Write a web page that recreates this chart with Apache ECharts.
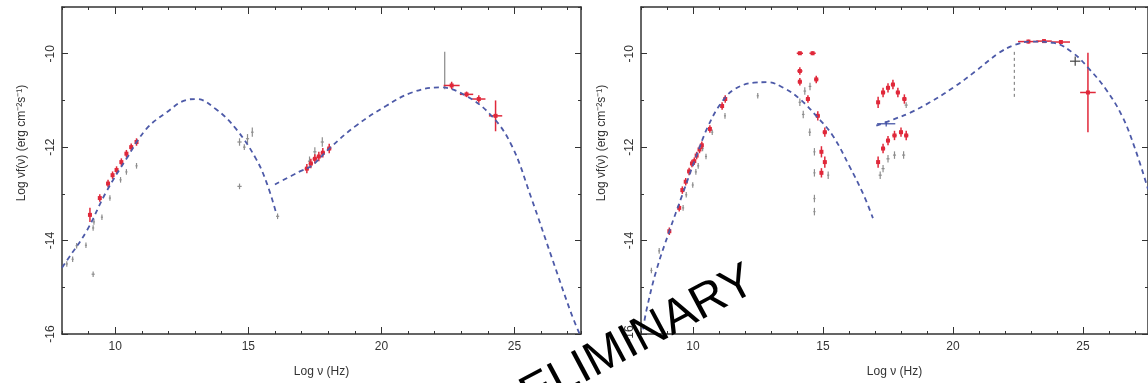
<!DOCTYPE html>
<html>
<head>
<meta charset="utf-8">
<script src="https://cdn.jsdelivr.net/npm/echarts@6/dist/echarts.min.js"></script>
<style>
  html, body { margin: 0; padding: 0; background: #fff; }
  #chart { width: 1148px; height: 383px; }
</style>
</head>
<body>
<div id="chart"></div>
<script>
// axis ranges and tick labels
const X_MIN = 8, X_MAX = 27.5, Y_MIN = -16, Y_MAX = -9;
const xMajor = [10, 15, 20, 25];
const yMajor = [-16, -14, -12, -10];

// left panel: model curves [log nu, log nuFnu]
const syncL = [[8.0, -14.58], [8.18, -14.43], [8.92, -13.80], [9.67, -12.95], [10.42, -12.25], [11.17, -11.61],
  [11.92, -11.26], [12.67, -10.99], [13.04, -10.97], [13.79, -11.19], [14.54, -11.61], [15.29, -12.25],
  [15.7, -12.78], [16.04, -13.4]];
const icL = [[16.0, -12.8], [16.9, -12.53], [17.4, -12.39], [18.04, -12.03], [19.05, -11.54], [20.17, -11.12],
  [21.15, -10.83], [22.2, -10.72], [23.17, -10.9], [24.14, -11.33], [24.9, -11.97], [25.64, -13.1],
  [26.4, -14.36], [27.14, -15.57], [27.45, -16.0]];

// left panel: data points [x, y, half width, half height]
const redL = [[10.8, -11.89, 0.05, 0.08], [10.6, -12.0, 0.05, 0.08], [10.42, -12.14, 0.05, 0.08],
  [10.23, -12.32, 0.05, 0.08], [10.05, -12.49, 0.05, 0.08], [9.9, -12.6, 0.05, 0.08],
  [9.73, -12.78, 0.05, 0.08], [9.42, -13.09, 0.05, 0.08], [9.05, -13.45, 0.05, 0.15],
  [17.2, -12.46, 0.08, 0.1], [17.35, -12.35, 0.08, 0.1], [17.5, -12.25, 0.08, 0.1],
  [17.65, -12.2, 0.08, 0.1], [17.8, -12.12, 0.08, 0.1], [18.04, -12.03, 0.08, 0.1],
  [22.64, -10.68, 0.3, 0.08], [23.2, -10.87, 0.25, 0.06], [23.66, -10.97, 0.25, 0.08],
  [24.29, -11.33, 0.25, 0.33]];
const greyL = [[10.8, -12.4, 0.04, 0.06], [10.42, -12.53, 0.04, 0.06], [10.2, -12.7, 0.04, 0.06],
  [9.8, -13.09, 0.04, 0.06], [9.5, -13.5, 0.04, 0.06], [9.2, -13.6, 0.04, 0.06], [9.17, -13.73, 0.04, 0.06],
  [8.9, -14.1, 0.04, 0.06], [8.55, -14.11, 0.04, 0.06], [8.4, -14.4, 0.04, 0.06], [8.18, -14.5, 0.04, 0.06],
  [9.17, -14.72, 0.06, 0.06], [14.67, -12.84, 0.08, 0.06], [14.67, -11.89, 0.08, 0.08],
  [14.97, -11.82, 0.06, 0.1], [15.15, -11.68, 0.05, 0.1], [14.85, -12.0, 0.05, 0.06],
  [16.1, -13.48, 0.06, 0.06], [17.78, -11.89, 0.06, 0.1], [17.5, -12.1, 0.06, 0.1], [17.3, -12.3, 0.06, 0.1]];
const barL = [[22.38, -9.96, -10.76]];

// right panel: model curves
const syncR = [[8.08, -15.9], [8.21, -15.49], [8.59, -14.64], [9.09, -13.8], [9.59, -13.02], [10.09, -12.25],
  [10.59, -11.54], [11.1, -11.04], [11.6, -10.76], [12.35, -10.62], [12.86, -10.61], [13.48, -10.73],
  [14.11, -10.97], [14.74, -11.33], [15.37, -11.75], [16.0, -12.39], [16.56, -13.02], [16.92, -13.52]];
const icR = [[17.05, -11.54], [17.74, -11.4], [18.36, -11.26], [19.11, -11.04], [20.0, -10.73], [20.88, -10.37],
  [21.75, -9.99], [22.38, -9.81], [23.0, -9.74], [23.88, -9.77], [24.63, -9.99], [25.26, -10.34],
  [25.88, -10.76], [26.5, -11.33], [27.0, -12.03], [27.5, -12.9]];

// right panel: data points
const redR = [[11.24, -10.97, 0.05, 0.08], [11.12, -11.12, 0.05, 0.08], [10.65, -11.61, 0.05, 0.08],
  [10.34, -11.96, 0.05, 0.08], [10.25, -12.05, 0.05, 0.08], [10.14, -12.18, 0.05, 0.08],
  [10.05, -12.3, 0.05, 0.08], [9.96, -12.35, 0.05, 0.08], [9.85, -12.52, 0.05, 0.08],
  [9.72, -12.74, 0.05, 0.08], [9.59, -12.92, 0.05, 0.08], [9.47, -13.3, 0.05, 0.08], [9.09, -13.8, 0.05, 0.08],
  [14.11, -9.99, 0.12, 0.04], [14.6, -9.99, 0.12, 0.04], [14.11, -10.37, 0.1, 0.08], [14.74, -10.55, 0.08, 0.08],
  [14.11, -10.6, 0.08, 0.08], [14.42, -10.97, 0.08, 0.08], [14.8, -11.33, 0.08, 0.1], [15.07, -11.68, 0.08, 0.1],
  [14.94, -12.1, 0.06, 0.12], [15.07, -12.32, 0.06, 0.12], [14.94, -12.55, 0.06, 0.1],
  [17.12, -11.04, 0.05, 0.12], [17.31, -10.83, 0.08, 0.1], [17.5, -10.73, 0.08, 0.1], [17.69, -10.66, 0.08, 0.1],
  [17.88, -10.83, 0.08, 0.1], [18.13, -10.97, 0.08, 0.1],
  [17.12, -12.32, 0.05, 0.12], [17.31, -12.03, 0.08, 0.1], [17.5, -11.86, 0.08, 0.1], [17.75, -11.75, 0.08, 0.1],
  [18.0, -11.68, 0.08, 0.1], [18.2, -11.75, 0.08, 0.1],
  [22.9, -9.74, 0.4, 0.04], [23.5, -9.73, 0.3, 0.04], [24.15, -9.75, 0.35, 0.04], [25.19, -10.83, 0.3, 0.85]];
const greyR = [[12.49, -10.9, 0.04, 0.06], [11.23, -11.33, 0.04, 0.06], [10.74, -11.68, 0.04, 0.06],
  [10.5, -12.2, 0.04, 0.06], [10.37, -12.03, 0.04, 0.06], [10.2, -12.4, 0.04, 0.06], [10.11, -12.53, 0.04, 0.06],
  [9.99, -12.81, 0.04, 0.06], [9.74, -13.02, 0.04, 0.06], [9.62, -13.3, 0.04, 0.06], [8.7, -14.22, 0.04, 0.06],
  [8.4, -14.64, 0.04, 0.06], [14.11, -11.04, 0.05, 0.08], [14.24, -11.3, 0.05, 0.08], [14.3, -10.8, 0.05, 0.08],
  [14.5, -10.7, 0.05, 0.08], [14.49, -11.68, 0.05, 0.08], [14.67, -12.1, 0.04, 0.08], [14.67, -12.55, 0.04, 0.08],
  [14.67, -13.1, 0.04, 0.08], [14.67, -13.38, 0.04, 0.08], [15.2, -12.6, 0.04, 0.08],
  [18.2, -11.1, 0.06, 0.06], [17.31, -12.46, 0.06, 0.08], [17.5, -12.25, 0.06, 0.08], [17.75, -12.17, 0.06, 0.08],
  [18.1, -12.17, 0.06, 0.08], [17.2, -12.6, 0.06, 0.08]];
const darkR = [[24.7, -10.16, 0.2, 0.1]];
const blueR = [[17.43, -11.5, 0.35, 0.06]];
const barR = [[22.36, -9.96, -10.93]];

const AX = '#333';
const MODEL = '#4d5aa8';
const RED = '#e0283a';
const GREY = '#8e8e8e';

function xAxes(g) {
  const base = { gridIndex: g, type: 'value', min: X_MIN, max: X_MAX, splitLine: { show: false } };
  const minor = {
    interval: 1,
    axisLine: { show: true, onZero: false, lineStyle: { color: AX, width: 1.5 } },
    axisTick: { inside: true, length: 3, lineStyle: { color: AX } },
    axisLabel: { show: false }
  };
  const major = {
    axisLine: { show: false, onZero: false },
    axisTick: { inside: true, length: 7, customValues: xMajor, lineStyle: { color: AX } }
  };
  return [
    Object.assign({}, base, minor, { position: 'bottom' }),
    Object.assign({}, base, major, {
      position: 'bottom',
      axisLabel: { customValues: xMajor, color: '#333', fontSize: 12, margin: 7, fontFamily: 'Liberation Sans' },
      name: 'Log ν (Hz)', nameLocation: 'middle', nameGap: 32,
      nameTextStyle: { color: '#333', fontSize: 12, fontFamily: 'Liberation Sans' }
    }),
    Object.assign({}, base, minor, { position: 'top' }),
    Object.assign({}, base, major, { position: 'top', axisLabel: { show: false } })
  ];
}

function yAxes(g) {
  const base = { gridIndex: g, type: 'value', min: Y_MIN, max: Y_MAX, splitLine: { show: false } };
  const minor = {
    interval: 1,
    axisLine: { show: true, onZero: false, lineStyle: { color: AX, width: 1.5 } },
    axisTick: { inside: true, length: 3, lineStyle: { color: AX } },
    axisLabel: { show: false }
  };
  const major = {
    axisLine: { show: false, onZero: false },
    axisTick: { inside: true, length: 6, customValues: yMajor, lineStyle: { color: AX } }
  };
  return [
    Object.assign({}, base, minor, { position: 'left' }),
    Object.assign({}, base, major, {
      position: 'left',
      axisLabel: { customValues: yMajor, rotate: 90, color: '#333', fontSize: 12, margin: 5, fontFamily: 'Liberation Sans' }
    }),
    Object.assign({}, base, minor, { position: 'right' }),
    Object.assign({}, base, major, { position: 'right', axisLabel: { show: false } })
  ];
}

function modelSeries(g, data) {
  return {
    type: 'line', xAxisIndex: g * 4, yAxisIndex: g * 4, data: data,
    showSymbol: false, smooth: 0.4, silent: true,
    lineStyle: { color: MODEL, width: 1.8, type: [5, 4] }
  };
}

// error bar points drawn through the axes
function errSeries(g, data, color, dot) {
  return {
    type: 'custom', coordinateSystem: 'cartesian2d', xAxisIndex: g * 4, yAxisIndex: g * 4,
    data: data, encode: { x: 0, y: 1 }, clip: true,
    renderItem: function (params, api) {
      const x = api.value(0), y = api.value(1), dx = api.value(2), dy = api.value(3);
      const c = api.coord([x, y]);
      const l = api.coord([x - dx, y]), r = api.coord([x + dx, y]);
      const t = api.coord([x, y + dy]), b = api.coord([x, y - dy]);
      const st = { stroke: color, lineWidth: dot ? 1.5 : 1.2 };
      const children = [
        { type: 'line', shape: { x1: l[0], y1: c[1], x2: r[0], y2: c[1] }, style: st },
        { type: 'line', shape: { x1: c[0], y1: t[1], x2: c[0], y2: b[1] }, style: st }
      ];
      if (dot) {
        children.push({ type: 'rect', shape: { x: c[0] - 2, y: c[1] - 2, width: 4, height: 4 }, style: { fill: color } });
      }
      return { type: 'group', children: children };
    }
  };
}

// vertical bars [x, top, bottom]
function barSeries(g, data, dash) {
  return {
    type: 'custom', coordinateSystem: 'cartesian2d', xAxisIndex: g * 4, yAxisIndex: g * 4,
    data: data, encode: { x: 0, y: [1, 2] }, clip: true,
    renderItem: function (params, api) {
      const t = api.coord([api.value(0), api.value(1)]);
      const b = api.coord([api.value(0), api.value(2)]);
      return {
        type: 'line', shape: { x1: t[0], y1: t[1], x2: b[0], y2: b[1] },
        style: { stroke: '#888', lineWidth: 1.2, lineDash: dash ? [3, 3] : null }
      };
    }
  };
}

const chart = echarts.init(document.getElementById('chart'));
chart.setOption({
  animation: false,
  backgroundColor: '#fff',
  grid: [
    { left: 62, top: 7, width: 519, height: 330 },
    { left: 641, top: 7, width: 519, height: 330 }
  ],
  xAxis: xAxes(0).concat(xAxes(1)),
  yAxis: yAxes(0).concat(yAxes(1)),
  series: [
    barSeries(0, barL, false),
    errSeries(0, greyL, GREY, false),
    modelSeries(0, syncL),
    modelSeries(0, icL),
    errSeries(0, redL, RED, true),
    barSeries(1, barR, true),
    errSeries(1, greyR, GREY, false),
    modelSeries(1, syncR),
    modelSeries(1, icR),
    errSeries(1, redR, RED, true),
    errSeries(1, darkR, '#444', false),
    errSeries(1, blueR, '#3a4aa0', false)
  ],
  graphic: [
    {
      type: 'text', x: 22, y: 143, rotation: Math.PI / 2,
      style: { text: 'Log νf(ν) (erg cm⁻²s⁻¹)', fill: '#333', font: '12px "Liberation Sans"', textAlign: 'center', textVerticalAlign: 'middle' }
    },
    {
      type: 'text', x: 602, y: 143, rotation: Math.PI / 2,
      style: { text: 'Log νf(ν) (erg cm⁻²s⁻¹)', fill: '#333', font: '12px "Liberation Sans"', textAlign: 'center', textVerticalAlign: 'middle' }
    },
    {
      type: 'text', x: 752, y: 278, rotation: 28 * Math.PI / 180, z: 100,
      style: { text: 'PRELIMINARY', fill: '#000', font: '48px "Liberation Sans"', textAlign: 'right', textVerticalAlign: 'middle' }
    }
  ]
});
</script>
</body>
</html>
